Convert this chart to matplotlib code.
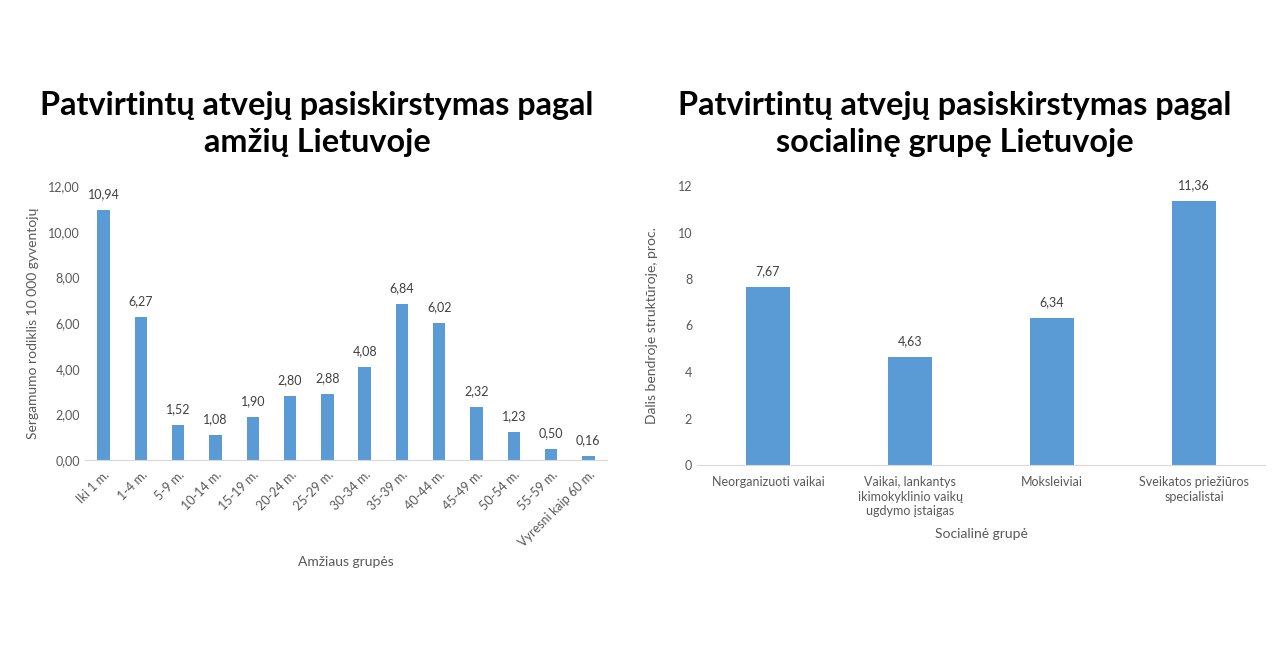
import matplotlib
matplotlib.use("Agg")
import matplotlib.pyplot as plt
from matplotlib.ticker import FuncFormatter

plt.rcParams['font.family'] = ['Lato', 'DejaVu Sans']

# kairysis grafikas: amžiaus grupės
age_groups = ['Iki 1 m.', '1-4 m.', '5-9 m.', '10-14 m.', '15-19 m.', '20-24 m.',
              '25-29 m.', '30-34 m.', '35-39 m.', '40-44 m.', '45-49 m.', '50-54 m.',
              '55-59 m.', 'Vyresni kaip 60 m.']
age_rate = [10.94, 6.27, 1.52, 1.08, 1.90, 2.80, 2.88, 4.08, 6.84, 6.02, 2.32, 1.23, 0.50, 0.16]

# dešinysis grafikas: socialinės grupės
soc_groups = ['Neorganizuoti vaikai',
              'Vaikai, lankantys\nikimokyklinio vaikų\nugdymo įstaigas',
              'Moksleiviai',
              'Sveikatos priežiūros\nspecialistai']
soc_share = [7.67, 4.63, 6.34, 11.36]

bar_col = '#5B9BD5'
txt_col = '#595959'
lbl_col = '#404040'

W, H = 1285, 655
fig = plt.figure(figsize=(W / 100, H / 100), dpi=100)


def comma(v, dec):
    return f'{v:.{dec}f}'.replace('.', ',')


def style(ax):
    for s in ['top', 'right', 'left']:
        ax.spines[s].set_visible(False)
    ax.spines['bottom'].set_color('#D9D9D9')
    ax.tick_params(axis='both', length=0, colors=txt_col, labelsize=9)


# left
ax1 = fig.add_axes([85 / W, 1 - 460 / H, (607 - 85) / W, (460 - 186) / H])
x1 = range(len(age_groups))
ax1.bar(x1, age_rate, width=0.33, color=bar_col)
ax1.set_xlim(-0.5, len(age_groups) - 0.5)
ax1.set_ylim(0, 12)
ax1.set_yticks(range(0, 13, 2))
ax1.yaxis.set_major_formatter(FuncFormatter(lambda v, p: comma(v, 2)))
ax1.set_xticks(list(x1))
ax1.set_xticklabels(age_groups, rotation=45, ha='right', rotation_mode='anchor')
style(ax1)
ax1.tick_params(axis='x', pad=6)
for i, v in enumerate(age_rate):
    ax1.annotate(comma(v, 2), (i, v), xytext=(0, 7), textcoords='offset points',
                 ha='center', va='bottom', fontsize=9, color=lbl_col)
ax1.set_ylabel('Sergamumo rodiklis 10 000 gyventojų', fontsize=10, color=txt_col, labelpad=7)
ax1.set_xlabel('Amžiaus grupės', fontsize=10, color=txt_col, labelpad=5)

# right
ax2 = fig.add_axes([697 / W, 1 - 465 / H, (1265 - 697) / W, (465 - 186) / H])
x2 = range(len(soc_groups))
ax2.bar(x2, soc_share, width=0.31, color=bar_col)
ax2.set_xlim(-0.5, len(soc_groups) - 0.5)
ax2.set_ylim(0, 12)
ax2.set_yticks(range(0, 13, 2))
ax2.set_xticks(list(x2))
ax2.set_xticklabels(soc_groups, linespacing=1.25)
style(ax2)
ax2.tick_params(axis='x', pad=8)
for i, v in enumerate(soc_share):
    ax2.annotate(comma(v, 2), (i, v), xytext=(0, 7), textcoords='offset points',
                 ha='center', va='bottom', fontsize=9, color=lbl_col)
ax2.set_ylabel('Dalis bendroje struktūroje, proc.', fontsize=10, color=txt_col, labelpad=14)
ax2.set_xlabel('Socialinė grupė', fontsize=10, color=txt_col, labelpad=8)

# titles
fig.text(317 / W, 1 - 124 / H, 'Patvirtintų atvejų pasiskirstymas pagal\namžių Lietuvoje',
         ha='center', va='center', fontsize=23.3, fontweight='bold', color='black',
         linespacing=1.35)
fig.text(955 / W, 1 - 124 / H, 'Patvirtintų atvejų pasiskirstymas pagal\nsocialinę grupę Lietuvoje',
         ha='center', va='center', fontsize=23.3, fontweight='bold', color='black',
         linespacing=1.35)

fig.savefig('out.png', dpi=100, facecolor='white')
